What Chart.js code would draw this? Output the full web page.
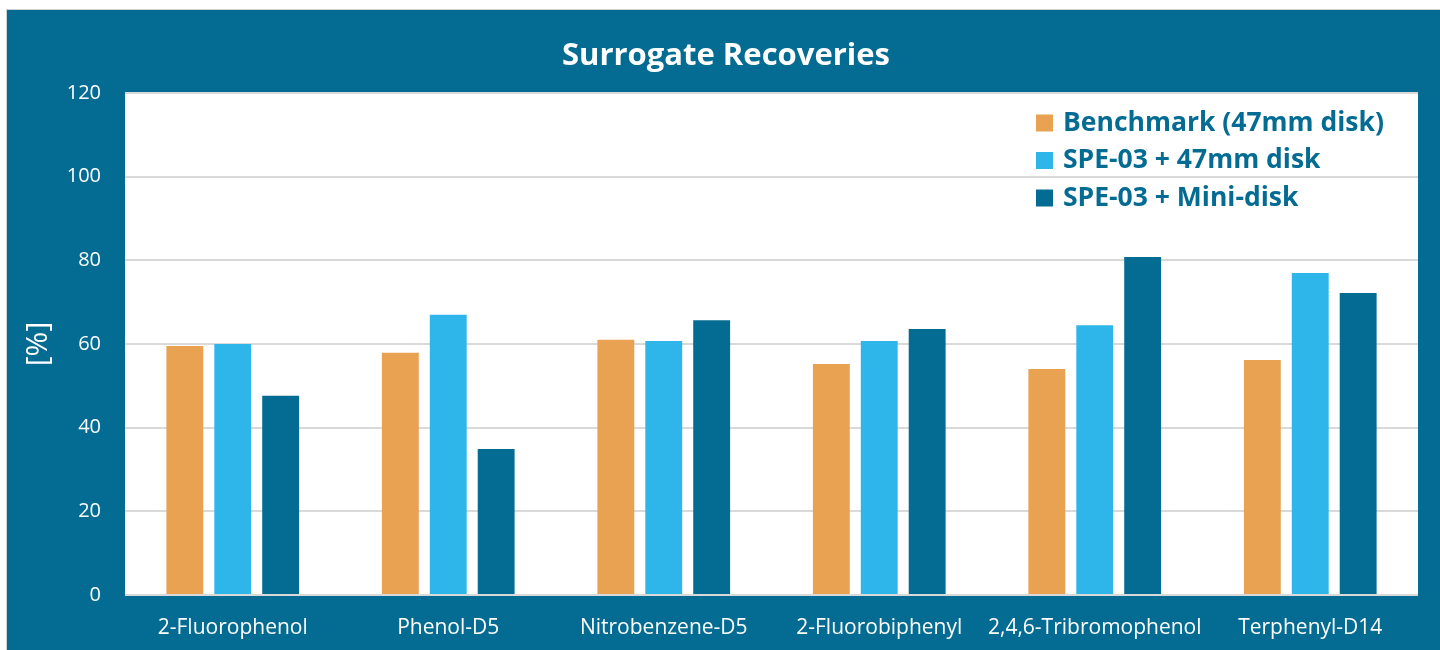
<!DOCTYPE html>
<html>
<head>
<meta charset="utf-8">
<script src="https://cdn.jsdelivr.net/npm/chart.js@4.4.0/dist/chart.umd.min.js"></script>
<style>
  html, body { margin: 0; padding: 0; background: #ffffff; width: 1440px; height: 650px; overflow: hidden; }
  #wrap { position: absolute; left: 6px; top: 9px; width: 1434px; height: 641px; background: #046C92; border-top: 1px solid #d0d0d0; border-left: 1px solid #d0d0d0; box-sizing: border-box; }
  #box { position: absolute; left: 0; top: 0; width: 1433px; height: 640px; }
</style>
</head>
<body>
<div id="wrap"><div id="box"><canvas id="c"></canvas></div></div>
<script>
const categories = ["2-Fluorophenol", "Phenol-D5", "Nitrobenzene-D5", "2-Fluorobiphenyl", "2,4,6-Tribromophenol", "Terphenyl-D14"];
const seriesNames = ["Benchmark (47mm disk)", "SPE-03 + 47mm disk", "SPE-03 + Mini-disk"];
const benchmark = [59.5, 57.9, 61.0, 55.2, 54.0, 56.2];
const spe47 = [60.0, 67.0, 60.7, 60.7, 64.5, 77.0];
const speMini = [47.6, 34.9, 65.7, 63.6, 80.8, 72.2];
const yTicks = [0, 20, 40, 60, 80, 100, 120];
const colors = ["#E9A251", "#2EB6EB", "#046C92"];
const chartTitle = "Surrogate Recoveries";

const FONT = "'Open Sans', 'DejaVu Sans', sans-serif";

const bgPlugin = {
  id: 'plotBg',
  beforeDraw(chart) {
    const a = chart.chartArea, ctx = chart.ctx;
    ctx.save();
    ctx.fillStyle = '#ffffff';
    ctx.fillRect(a.left, a.top, a.right - a.left, a.bottom - a.top);
    ctx.restore();
  }
};

const titlePlugin = {
  id: 'centerTitle',
  afterDraw(chart) {
    const ctx = chart.ctx;
    ctx.save();
    ctx.font = "bold 31px " + FONT;
    ctx.fillStyle = '#ffffff';
    ctx.textAlign = 'center';
    ctx.textBaseline = 'middle';
    ctx.fillText(chartTitle, chart.width / 2 + 2.5, 46.5);
    ctx.restore();
  }
};

const legendPlugin = {
  id: 'innerLegend',
  afterDraw(chart) {
    const a = chart.chartArea, ctx = chart.ctx;
    ctx.save();
    const x0 = a.right - 382;
    let y = a.top + 30;
    ctx.font = "bold 26.5px " + FONT;
    ctx.textBaseline = 'middle';
    chart.data.datasets.forEach(ds => {
      ctx.fillStyle = ds.backgroundColor;
      ctx.fillRect(x0, y - 8.5, 17, 17);
      ctx.fillStyle = '#046C92';
      ctx.fillText(ds.label, x0 + 27, y);
      y += 37.5;
    });
    ctx.restore();
  }
};

new Chart(document.getElementById('c'), {
  type: 'bar',
  data: {
    labels: categories,
    datasets: [
      { label: seriesNames[0], data: benchmark, backgroundColor: colors[0] },
      { label: seriesNames[1], data: spe47, backgroundColor: colors[1] },
      { label: seriesNames[2], data: speMini, backgroundColor: colors[2] }
    ]
  },
  options: {
    responsive: true,
    maintainAspectRatio: false,
    animation: false,
    layout: { padding: { left: 0, right: 22, top: 83, bottom: 0 } },
    datasets: { bar: { categoryPercentage: 0.667, barPercentage: 0.77 } },
    plugins: {
      legend: { display: false },
      tooltip: { enabled: false },
      title: { display: false }
    },
    scales: {
      x: {
        grid: { display: false },
        border: { display: false },
        ticks: { color: '#ffffff', font: { family: FONT, size: 21 }, padding: 12, maxRotation: 0, autoSkip: false },
        afterFit(s) { s.height = 55; }
      },
      y: {
        min: 0, max: 120,
        afterBuildTicks(s) { s.ticks = yTicks.map(v => ({ value: v })); },
        grid: { color: '#d9d9d9', lineWidth: 2, drawTicks: false },
        border: { display: false },
        ticks: { color: '#ffffff', font: { family: FONT, size: 20 }, padding: 24 },
        title: { display: true, text: '[%]', color: '#ffffff', font: { family: FONT, size: 30 }, padding: { top: 13, bottom: 0 } },
        afterFit(s) { s.width = 118; }
      }
    }
  },
  plugins: [bgPlugin, titlePlugin, legendPlugin]
});
</script>
</body>
</html>
